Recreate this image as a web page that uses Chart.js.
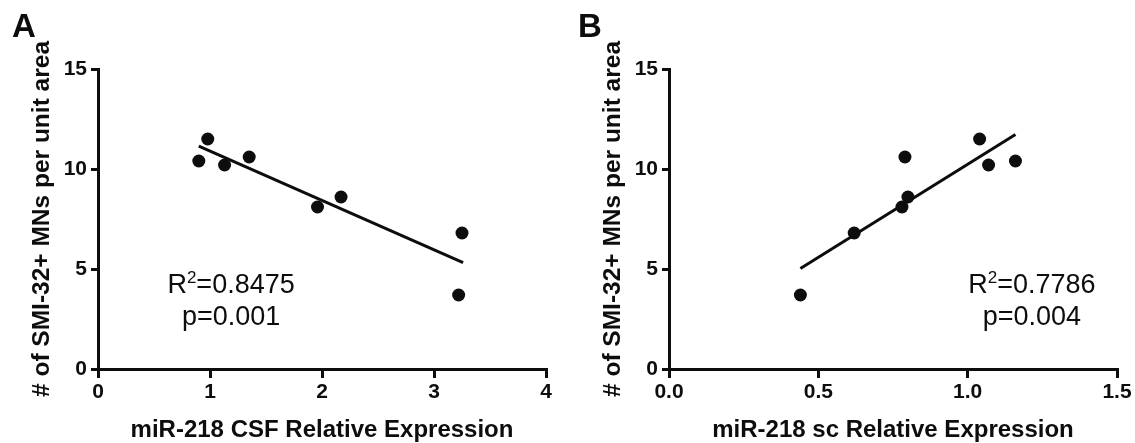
<!DOCTYPE html>
<html>
<head>
<meta charset="utf-8">
<script src="https://cdn.jsdelivr.net/npm/chart.js@4"></script>
<style>
  html, body { margin: 0; padding: 0; background: #fff; }
  #wrap { position: relative; width: 1135px; height: 443px; overflow: hidden; }
  canvas { position: absolute; top: 0; }
  #chartA { left: 0; }
  #chartB { left: 567px; }
</style>
</head>
<body>
<div id="wrap">
  <canvas id="chartA" width="567" height="443"></canvas>
  <canvas id="chartB" width="568" height="443"></canvas>
</div>
<script>
// values (same 8 animals in both panels)
const mnCount = [10.4, 11.5, 10.2, 10.6, 8.1, 8.6, 3.7, 6.8];
const csfExpr = [0.90, 0.98, 1.13, 1.35, 1.96, 2.17, 3.22, 3.25];
const scExpr  = [1.16, 1.04, 1.07, 0.79, 0.78, 0.80, 0.44, 0.62];

// regression lines (end points as drawn)
const fitCsfX = [0.90, 3.26];
const fitCsfY = [11.14, 5.32];
const fitScX  = [0.44, 1.16];
const fitScY  = [5.02, 11.73];

// ticks
const yTicks   = [0, 5, 10, 15];
const xTicksA  = [0, 1, 2, 3, 4];
const xTicksB  = [0, 0.5, 1.0, 1.5];
const xLabelsB = ['0.0', '0.5', '1.0', '1.5'];

const INK = '#0d0d0d';
const FONT = "'Liberation Sans', Arial, sans-serif";

function toPoints(xs, ys) {
    return xs.map((x, i) => ({ x: x, y: ys[i] }));
}

// panel letter and R²/p text
const notesPlugin = {
    id: 'notes',
    afterDraw(chart, args, opts) {
        const ctx = chart.ctx;
        const area = chart.chartArea;
        ctx.save();
        ctx.fillStyle = INK;
        ctx.textBaseline = 'alphabetic';

        ctx.font = `bold 33px ${FONT}`;
        ctx.textAlign = 'left';
        ctx.fillText(opts.letter, opts.letterX, 37);

        const cx = area.left + opts.fx * (area.right - area.left);
        const b1 = area.top + 224;
        const b2 = area.top + 256;

        ctx.font = `27px ${FONT}`;
        const wR = ctx.measureText('R').width;
        const wRest = ctx.measureText(opts.r2).width;
        ctx.font = `17px ${FONT}`;
        const wSup = ctx.measureText('2').width;
        let x = cx - (wR + wSup + wRest) / 2;
        ctx.font = `27px ${FONT}`;
        ctx.fillText('R', x, b1);
        x += wR;
        ctx.font = `17px ${FONT}`;
        ctx.fillText('2', x, b1 - 10);
        x += wSup;
        ctx.font = `27px ${FONT}`;
        ctx.fillText(opts.r2, x, b1);

        ctx.textAlign = 'center';
        ctx.fillText(opts.p, cx, b2);
        ctx.restore();
    }
};

function makePanel(id, xs, fitX, fitY, xMax, xTicks, xLabels, xTitle, yWidth, padRight, notes) {
    const ctx = document.getElementById(id).getContext('2d');
    return new Chart(ctx, {
        type: 'scatter',
        data: {
            datasets: [{
                data: toPoints(xs, mnCount),
                backgroundColor: INK,
                borderWidth: 0,
                pointRadius: 6.5,
                pointHoverRadius: 6.5
            }, {
                type: 'line',
                data: toPoints(fitX, fitY),
                borderColor: INK,
                borderWidth: 3,
                pointRadius: 0,
                fill: false
            }]
        },
        options: {
            responsive: false,
            animation: false,
            devicePixelRatio: 1,
            layout: { padding: { top: 69, right: padRight, bottom: 0, left: 0 } },
            plugins: {
                legend: { display: false },
                tooltip: { enabled: false },
                notes: notes
            },
            scales: {
                x: {
                    type: 'linear',
                    min: 0,
                    max: xMax,
                    afterBuildTicks: s => { s.ticks = xTicks.map(v => ({ value: v })); },
                    afterFit: s => { s.height = 74; },
                    ticks: {
                        color: INK,
                        padding: 2,
                        maxRotation: 0,
                        font: { family: FONT, size: 21, weight: 'bold' },
                        callback: (v, i) => xLabels[i]
                    },
                    grid: {
                        display: true,
                        drawOnChartArea: false,
                        drawTicks: true,
                        tickLength: 9,
                        color: INK,
                        lineWidth: 3
                    },
                    border: { display: true, color: INK, width: 3 },
                    title: {
                        display: true,
                        text: xTitle,
                        color: INK,
                        font: { family: FONT, size: 24, weight: 'bold', lineHeight: 1 },
                        padding: { top: 0, bottom: 1 }
                    }
                },
                y: {
                    type: 'linear',
                    min: 0,
                    max: 15,
                    afterBuildTicks: s => { s.ticks = yTicks.map(v => ({ value: v })); },
                    afterFit: s => { s.width = yWidth; },
                    ticks: {
                        color: INK,
                        padding: 4,
                        font: { family: FONT, size: 21, weight: 'bold' }
                    },
                    grid: {
                        display: true,
                        drawOnChartArea: false,
                        drawTicks: true,
                        tickLength: 7,
                        color: INK,
                        lineWidth: 3
                    },
                    border: { display: true, color: INK, width: 3 },
                    title: {
                        display: true,
                        text: '# of SMI-32+ MNs per unit area',
                        color: INK,
                        font: { family: FONT, size: 24.5, weight: 'bold', lineHeight: 1 },
                        padding: { top: 30 + (yWidth - 98), bottom: 0 }
                    }
                }
            }
        },
        plugins: [notesPlugin]
    });
}

makePanel('chartA', csfExpr, fitCsfX, fitCsfY, 4, xTicksA, xTicksA.map(String),
    'miR-218 CSF Relative Expression', 98, 21,
    { letter: 'A', letterX: 12, fx: 0.297, r2: '=0.8475', p: 'p=0.001' });

makePanel('chartB', scExpr, fitScX, fitScY, 1.5, xTicksB, xLabelsB,
    'miR-218 sc Relative Expression', 102, 18,
    { letter: 'B', letterX: 11, fx: 0.81, r2: '=0.7786', p: 'p=0.004' });
</script>
</body>
</html>
